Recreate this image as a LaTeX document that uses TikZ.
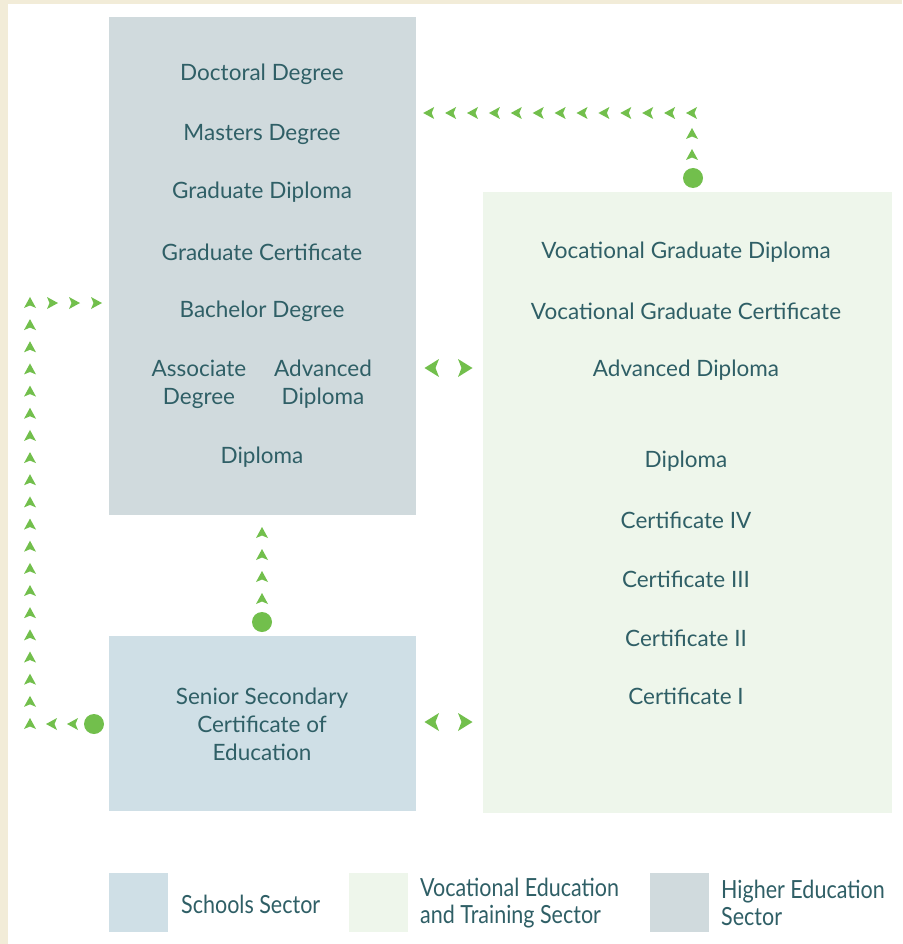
\documentclass[tikz,border=0pt]{standalone}
\usepackage{fontspec}
\setmainfont{Lato}
\newfontfamily\legfont[FakeStretch=0.86]{Lato}
\definecolor{cream}{HTML}{F2ECD8}
\definecolor{hed}{HTML}{D0DADD}
\definecolor{vet}{HTML}{EEF6EB}
\definecolor{sch}{HTML}{CFDFE6}
\definecolor{txt}{HTML}{2F5F66}
\definecolor{grn}{HTML}{72BF4C}
\tikzset{
  lbl/.style={text=txt, font=\fontsize{22.5}{28}\selectfont, align=center, inner sep=0pt, yshift=-2pt},
  leg/.style={text=txt, font=\legfont\fontsize{25}{27}\selectfont, align=left, inner sep=0pt, anchor=west},
  dot/.style={circle, fill=grn, minimum size=20pt, inner sep=0pt},
  box/.style={inner sep=0pt, anchor=north west}
}
\newcommand\chev[3]{\fill[grn, shift={(#1,#2)}, rotate=#3] (6,0) -- (-5,6) -- (-2.5,0) -- (-5,-6) -- cycle;}
\newcommand\bigchev[3]{\fill[grn, shift={(#1,#2)}, rotate=#3] (7.5,0) -- (-7,9) -- (-3.5,0) -- (-7,-9) -- cycle;}
\begin{document}
\begin{tikzpicture}[x=1pt,y=-1pt]
\useasboundingbox (0,0) rectangle (902,944);
\fill[white] (0,0) rectangle (902,944);
\fill[cream] (0,0) rectangle (902,4);
\fill[cream] (0,0) rectangle (8,944);
% boxes
\fill[hed] (109,17) rectangle (416,515);
\node[box, minimum width=307pt, minimum height=498pt] (he) at (109,17) {};
\fill[vet] (483,192) rectangle (892,813);
\node[box, minimum width=409pt, minimum height=621pt] (ve) at (483,192) {};
\fill[sch] (109,636) rectangle (416,811);
\node[box, minimum width=307pt, minimum height=175pt] (sc) at (109,636) {};
% higher education labels
\node[lbl] (h1) at (262,72) {Doctoral Degree};
\node[lbl] (h2) at (262,132) {Masters Degree};
\node[lbl] (h3) at (262,190) {Graduate Diploma};
\node[lbl] (h4) at (262,250) {Graduate Certificate};
\node[lbl] (h5) at (262,309) {Bachelor Degree};
\node[lbl] (h6) at (199,382) {Associate\\Degree};
\node[lbl] (h7) at (323,382) {Advanced\\Diploma};
\node[lbl] (h8) at (262,455) {Diploma};
% VET labels
\node[lbl] (v1) at (686,250) {Vocational Graduate Diploma};
\node[lbl] (v2) at (686,309) {Vocational Graduate Certificate};
\node[lbl] (v3) at (686,368) {Advanced Diploma};
\node[lbl] (v4) at (686,459) {Diploma};
\node[lbl] (v5) at (686,518) {Certificate IV};
\node[lbl] (v6) at (686,577) {Certificate III};
\node[lbl] (v7) at (686,636) {Certificate II};
\node[lbl] (v8) at (686,694) {Certificate I};
% schools label
\node[lbl] (s1) at (262,722) {Senior Secondary\\Certificate of\\Education};
% pathway dots
\node[dot] (d1) at (693,178) {};
\node[dot] (d2) at (262,622) {};
\node[dot] (d3) at (94,724) {};
\coordinate (c1) at (692,113);
\coordinate (c2) at (30,724);
\coordinate (c3) at (30,303);
% VET -> higher: up then left
\chev{692}{155}{90}
\chev{692}{134}{90}
\foreach \i in {0,...,12} {\chev{692-\i*21.9}{113}{180}}
% schools -> higher: up
\foreach \i in {0,...,3} {\chev{262}{599-\i*22}{90}}
% schools -> higher via left
\chev{73}{724}{180}
\chev{52}{724}{180}
\foreach \i in {0,...,19} {\chev{30}{724-\i*22.16}{90}}
\chev{52}{303}{0}
\chev{74}{303}{0}
\chev{96}{303}{0}
% two-way arrows
\bigchev{432}{368}{180}
\bigchev{465}{368}{0}
\bigchev{432}{722}{180}
\bigchev{465}{722}{0}
% legend
\fill[sch] (109,873) rectangle (168,932);
\node[box, minimum width=59pt, minimum height=59pt] (l1) at (109,873) {};
\fill[vet] (349,873) rectangle (408,932);
\node[box, minimum width=59pt, minimum height=59pt] (l2) at (349,873) {};
\fill[hed] (650,873) rectangle (709,932);
\node[box, minimum width=59pt, minimum height=59pt] (l3) at (650,873) {};
\node[leg] (t1) at (181,904) {Schools Sector};
\node[leg] (t2) at (420,903) {Vocational Education\\and Training Sector};
\node[leg] (t3) at (721,903) {Higher Education\\Sector};
\end{tikzpicture}
\end{document}
